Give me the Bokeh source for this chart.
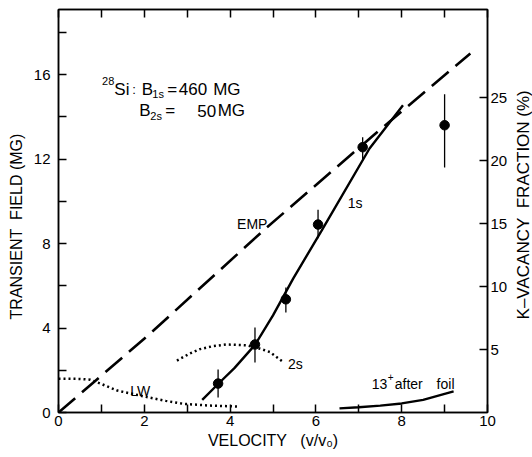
import math
from bokeh.plotting import figure
from bokeh.layouts import row
from bokeh.models import Range1d, LinearAxis, FixedTicker, Label, CustomJSTickFormatter
from bokeh.embed import file_html
from bokeh.resources import INLINE

# ---- data ----
# measured transient field points (MG) vs velocity (v/v0)
pts_v = [3.72, 4.58, 5.30, 6.05, 7.09, 9.00]
pts_b = [1.37, 3.22, 5.36, 8.90, 12.56, 13.60]
err_lo = [0.71, 2.37, 4.74, 8.25, 11.94, 11.60]
err_hi = [2.04, 4.03, 5.92, 9.60, 13.03, 15.07]

# EMP empirical curve (dashed)
emp_v = [0.0, 2.06, 4.85, 7.33, 9.6]
emp_b = [0.0, 3.6, 8.75, 13.1, 17.0]

# 1s curve (solid)
s1_v = [3.35, 3.72, 4.1, 4.58, 5.0, 5.47, 6.13, 7.25, 8.03]
s1_b = [0.6, 1.35, 2.1, 3.2, 4.6, 6.34, 8.6, 12.5, 14.55]

# 2s curve (dotted)
s2_v = [2.76, 3.05, 3.3, 3.6, 3.92, 4.39, 4.7, 4.93, 5.23]
s2_b = [2.46, 2.78, 3.0, 3.14, 3.22, 3.18, 3.02, 2.86, 2.4]

# LW curve (dotted)
lw_v = [0.0, 0.5, 0.74, 1.0, 1.37, 2.06, 2.5, 2.91, 3.5, 4.19]
lw_b = [1.6, 1.59, 1.55, 1.35, 1.04, 0.73, 0.55, 0.41, 0.33, 0.28]

# 13+ after foil (K-vacancy fraction, %)
foil_v = [6.55, 7.0, 7.5, 8.0, 8.5, 9.21]
foil_f = [0.33, 0.42, 0.55, 0.72, 1.0, 1.67]

# axis ticks
x_major = [0, 2, 4, 6, 8, 10]
x_minor = [1, 3, 5, 7, 9]
y_major = [0, 4, 8, 12, 16]
y_minor = [2, 6, 10, 14, 18]
kv_major = [5, 10, 15, 20, 25]
top_ticks = [0, 1, 2, 3, 4, 5, 6, 7, 8, 9, 10]

FONT = "Liberation Sans"
NB = "\u00a0"

p = figure(width=510, height=457, x_range=Range1d(0, 10), y_range=Range1d(0, 19.08),
           output_backend="svg", toolbar_location=None,
           min_border_left=58, min_border_right=23, min_border_top=9, min_border_bottom=45)
p.extra_y_ranges = {"kv": Range1d(0, 32.0)}
p.xgrid.visible = False
p.ygrid.visible = False
p.outline_line_color = "black"
p.outline_line_width = 1.5
p.background_fill_color = "white"
p.border_fill_color = "white"

def style_axis(ax, standoff, size="15px"):
    ax.major_tick_in = 8
    ax.major_tick_out = 0
    ax.minor_tick_in = 8
    ax.minor_tick_out = 0
    ax.major_tick_line_width = 1.5
    ax.minor_tick_line_width = 1.5
    ax.axis_line_width = 1.5
    ax.major_label_standoff = standoff
    ax.major_label_text_font = FONT
    ax.major_label_text_font_size = size
    ax.major_label_text_color = "black"
    ax.axis_label_text_font = FONT
    ax.axis_label_text_font_style = "normal"
    ax.axis_label_text_color = "black"

xa = p.xaxis[0]
xa.ticker = FixedTicker(ticks=x_major, minor_ticks=x_minor)
style_axis(xa, 3)
xa.axis_label = "VELOCITY" + NB * 3 + "(v/v\u2080)"
xa.axis_label_text_font_size = "16px"
xa.axis_label_standoff = 3

ya = p.yaxis[0]
ya.ticker = FixedTicker(ticks=y_major, minor_ticks=y_minor)
style_axis(ya, 8)
ya.axis_label = "TRANSIENT" + NB * 2 + "FIELD (MG)" + NB * 7
ya.axis_label_text_font_size = "16px"
ya.axis_label_standoff = 6

ra = LinearAxis(y_range_name="kv", ticker=FixedTicker(ticks=kv_major, minor_ticks=[]))
style_axis(ra, 3)
p.add_layout(ra, "right")

ta = LinearAxis(ticker=FixedTicker(ticks=top_ticks, minor_ticks=[]),
                formatter=CustomJSTickFormatter(code="return ''"))
style_axis(ta, 0)
p.add_layout(ta, "above")

# ---- curves ----
p.line(emp_v, emp_b, line_color="black", line_width=2.6, line_dash="22 9")
p.line(s1_v, s1_b, line_color="black", line_width=2.4)
p.line(s2_v, s2_b, line_color="black", line_width=2.5, line_dash="2 3")
p.line(lw_v, lw_b, line_color="black", line_width=2.5, line_dash="2 3")
p.line(foil_v, foil_f, y_range_name="kv", line_color="black", line_width=2.4)

p.segment(x0=pts_v, y0=err_lo, x1=pts_v, y1=err_hi, line_color="black", line_width=1.3)
p.scatter(pts_v, pts_b, size=9.5, fill_color="black", line_color="black")

# ---- texts (positioned in screenshot pixels, converted to data) ----
def lab(px, py, text, size):
    x = (px - 58) / 43.0
    y = (412 - py) / 21.125
    p.add_layout(Label(x=x, y=y, text=text, text_font=FONT, text_font_size=size,
                       text_color="black", text_align="left",
                       text_baseline="alphabetic"))

lab(101.7, 80.5, "28", "11px")
lab(114, 88.5, "Si", "17px")
lab(132, 88.5, ":", "13px")
lab(141.5, 88.5, "B", "17px")
lab(152, 93.5, "1s", "11px")
lab(167, 88.5, "=", "17px")
lab(178.5, 88.5, "460", "17px")
lab(213, 88.5, "MG", "17px")
lab(139, 110, "B", "17px")
lab(150, 115, "2s", "11px")
lab(165, 110, "=", "17px")
lab(197, 110, "50", "17px")
lab(217.5, 110, "MG", "17px")

lab(237, 223, "EMP", "14px")
lab(348, 202, "1s", "14px")
lab(130, 390, "LW", "14px")
lab(288, 363.5, "2s", "14px")
lab(372, 383, "13", "14px")
lab(388, 376, "+", "10px")
lab(395, 383, "after", "14px")
lab(437, 383, "foil", "14px")

# ---- right-hand axis title in a narrow side panel ----
p2 = figure(width=22, height=457, x_range=Range1d(0, 22), y_range=Range1d(0, 457),
            x_axis_type=None, y_axis_type=None, output_backend="svg",
            toolbar_location=None, min_border=0)
p2.outline_line_color = None
p2.xgrid.visible = False
p2.ygrid.visible = False
p2.background_fill_color = "white"
p2.border_fill_color = "white"
p2.add_layout(Label(x=12.5, y=235.5, text="K\u2013VACANCY" + NB * 2 + "FRACTION (%)", angle=math.pi / 2,
                    text_align="center", text_baseline="middle", text_font=FONT,
                    text_font_size="17px", text_color="black"))

layout = row(p, p2, spacing=0)
open("out.html", "w").write(file_html(layout, INLINE))
